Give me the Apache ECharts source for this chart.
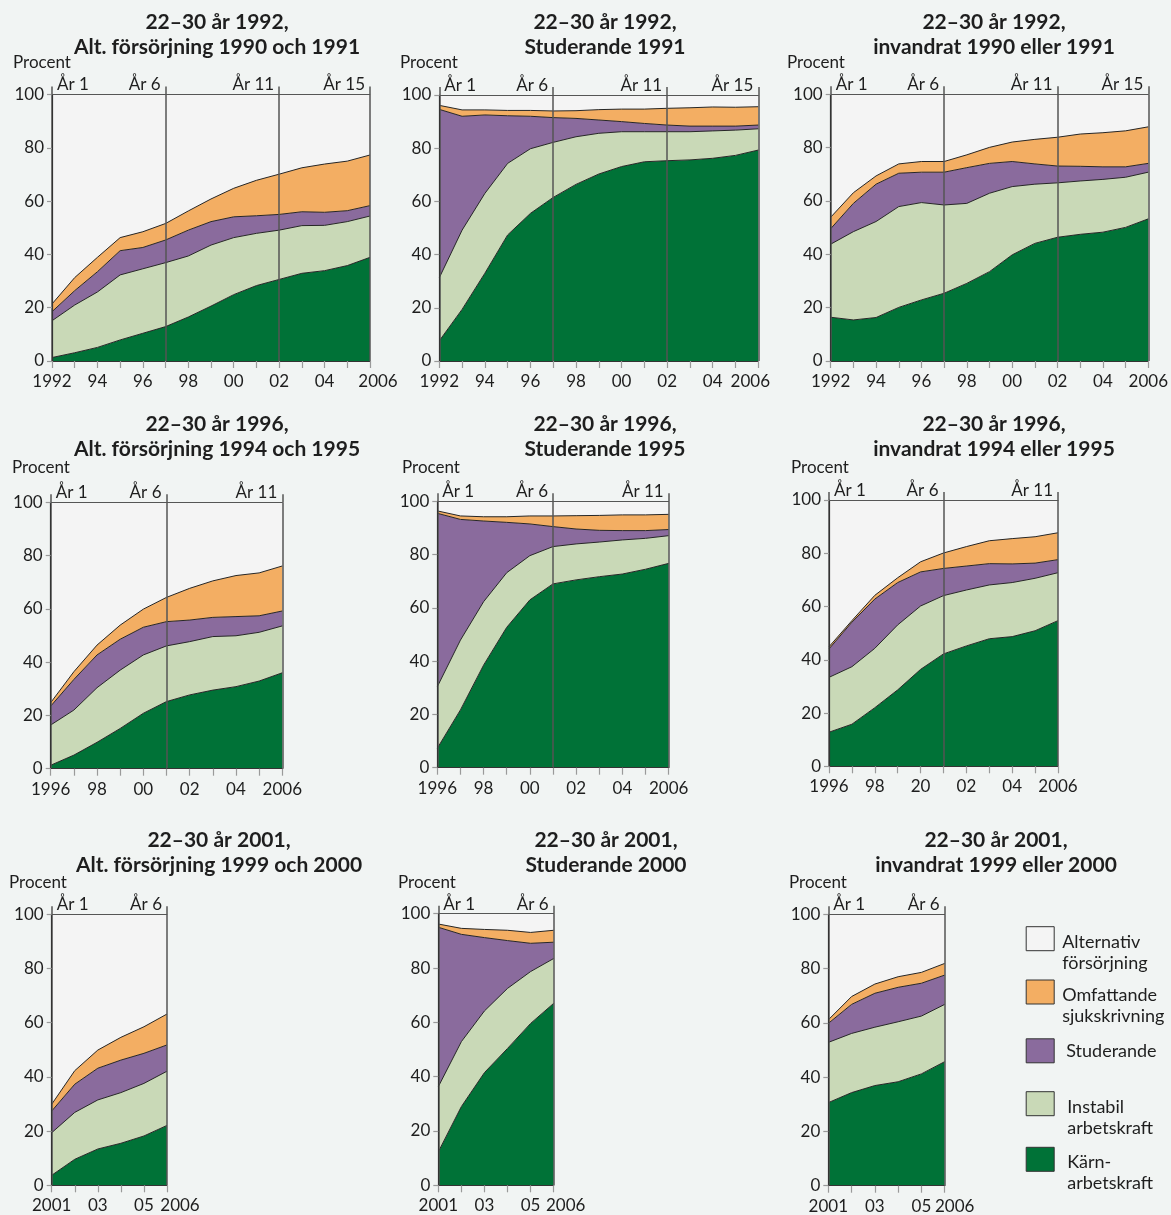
<!DOCTYPE html>
<html>
<head>
<meta charset="utf-8">
<title>Utfall 22–30 år</title>
<script src="https://cdn.jsdelivr.net/npm/echarts@6/dist/echarts.min.js"></script>
<style>
  html, body { margin: 0; padding: 0; background: #f1f4f3; }
  #chart { width: 1171px; height: 1215px; }
</style>
</head>
<body>
<div id="chart"></div>
<script>
// ---------- categories ----------
const years1992 = [1992, 1993, 1994, 1995, 1996, 1997, 1998, 1999, 2000, 2001, 2002, 2003, 2004, 2005, 2006];
const years1996 = [1996, 1997, 1998, 1999, 2000, 2001, 2002, 2003, 2004, 2005, 2006];
const years2001 = [2001, 2002, 2003, 2004, 2005, 2006];

// ---------- tick labels ----------
const tickLabels1992 = ['1992', '', '94', '', '96', '', '98', '', '00', '', '02', '', '04', '', '2006'];
const tickLabels1996 = ['1996', '', '98', '', '00', '', '02', '', '04', '', '2006'];
const tickLabels1996inv = ['1996', '', '98', '', '20', '', '02', '', '04', '', '2006'];
const tickLabels2001 = ['2001', '', '03', '', '05', '2006'];

const markerYears1992 = [1992, 1997, 2002, 2006];
const markerNames1992 = ['År 1', 'År 6', 'År 11', 'År 15'];
const markerYears1996 = [1996, 2001, 2006];
const markerNames1996 = ['År 1', 'År 6', 'År 11'];
const markerYears2001 = [2001, 2006];
const markerNames2001 = ['År 1', 'År 6'];

// ---------- series values (procent) ----------
// 22–30 år 1992, Alt. försörjning 1990 och 1991
const alt1992Karn       = [1.3, 3.1, 5.1, 7.9, 10.4, 12.9, 16.5, 20.6, 24.9, 28.3, 30.6, 32.9, 33.9, 35.8, 38.9];
const alt1992Instabil   = [13.8, 17.9, 20.8, 24.4, 24.2, 24.0, 22.9, 22.9, 21.4, 19.6, 18.5, 17.9, 17.0, 16.5, 15.5];
const alt1992Studerande = [3.4, 5.4, 7.6, 9.1, 8.0, 8.5, 9.7, 8.8, 7.8, 6.6, 5.9, 5.2, 4.9, 4.1, 3.9];
const alt1992Sjuk       = [2.9, 4.9, 5.4, 4.9, 5.9, 6.2, 7.2, 8.5, 10.7, 13.3, 15.1, 16.5, 18.1, 18.6, 19.0];

// 22–30 år 1992, Studerande 1991
const stud1992Karn       = [7.6, 19.4, 33.0, 47.4, 55.5, 61.5, 66.4, 70.3, 73.1, 74.9, 75.3, 75.6, 76.2, 77.3, 79.3];
const stud1992Instabil   = [23.7, 29.8, 30.0, 26.9, 24.3, 20.7, 17.9, 15.3, 13.1, 11.3, 10.9, 10.6, 10.3, 9.5, 8.0];
const stud1992Studerande = [63.3, 42.8, 29.5, 17.9, 12.2, 9.3, 6.9, 5.0, 3.8, 3.1, 2.5, 2.1, 1.8, 1.5, 1.4];
const stud1992Sjuk       = [1.5, 2.4, 1.9, 2.0, 2.2, 2.5, 2.9, 3.9, 4.7, 5.4, 6.3, 6.9, 7.2, 7.1, 6.9];

// 22–30 år 1992, invandrat 1990 eller 1991
const inv1992Karn       = [16.4, 15.4, 16.3, 20.1, 22.9, 25.4, 29.1, 33.5, 39.8, 44.1, 46.4, 47.5, 48.3, 50.1, 53.3];
const inv1992Instabil   = [27.4, 33.1, 36.0, 37.8, 36.5, 33.1, 30.0, 29.4, 25.6, 22.2, 20.4, 20.0, 19.8, 18.8, 17.5];
const inv1992Studerande = [5.8, 10.6, 14.0, 12.5, 11.4, 12.3, 13.4, 11.2, 9.4, 7.6, 6.3, 5.5, 4.7, 3.9, 3.3];
const inv1992Sjuk       = [4.3, 4.0, 3.1, 3.5, 4.0, 4.0, 4.8, 6.0, 7.3, 9.2, 10.8, 12.1, 12.8, 13.5, 13.7];

// 22–30 år 1996, Alt. försörjning 1994 och 1995
const alt1996Karn       = [1.3, 5.1, 9.9, 15.1, 20.8, 25.2, 27.7, 29.5, 30.8, 32.9, 36.0];
const alt1996Instabil   = [15.1, 16.9, 20.5, 21.9, 21.9, 20.9, 20.0, 20.1, 19.1, 18.3, 17.6];
const alt1996Studerande = [7.1, 11.5, 12.3, 11.6, 10.4, 9.1, 8.1, 7.2, 7.2, 6.2, 5.6];
const alt1996Sjuk       = [1.3, 2.9, 3.7, 5.3, 6.8, 9.1, 11.9, 13.7, 15.4, 16.1, 16.9];

// 22–30 år 1996, Studerande 1995
const stud1996Karn       = [7.3, 21.7, 38.5, 52.7, 63.0, 69.0, 70.5, 71.7, 72.7, 74.5, 76.7];
const stud1996Instabil   = [23.1, 26.2, 23.8, 20.5, 16.6, 14.0, 13.5, 13.0, 12.8, 11.6, 10.4];
const stud1996Studerande = [65.1, 45.3, 30.3, 18.9, 11.9, 7.5, 5.6, 4.4, 3.5, 2.9, 2.3];
const stud1996Sjuk       = [0.9, 1.3, 1.6, 2.1, 3.0, 4.0, 5.0, 5.6, 5.9, 5.9, 5.7];

// 22–30 år 1996, invandrat 1994 eller 1995
const inv1996Karn       = [12.8, 15.8, 22.0, 28.7, 36.4, 42.2, 45.2, 47.9, 48.7, 50.9, 54.7];
const inv1996Instabil   = [20.6, 21.6, 22.3, 24.4, 23.8, 21.9, 21.0, 20.2, 20.3, 19.7, 18.0];
const inv1996Studerande = [10.7, 16.7, 18.5, 15.9, 12.8, 10.2, 9.0, 8.0, 7.0, 5.7, 4.9];
const inv1996Sjuk       = [0.8, 0.6, 1.4, 1.8, 3.8, 5.8, 7.3, 8.6, 9.5, 9.9, 10.1];

// 22–30 år 2001, Alt. försörjning 1999 och 2000
const alt2001Karn       = [3.7, 9.6, 13.4, 15.5, 18.2, 22.1];
const alt2001Instabil   = [15.7, 17.3, 18.1, 18.7, 19.4, 20.0];
const alt2001Studerande = [8.0, 10.4, 11.7, 12.0, 11.1, 9.7];
const alt2001Sjuk       = [2.5, 5.0, 6.7, 8.4, 9.8, 11.4];

// 22–30 år 2001, Studerande 2000
const stud2001Karn       = [12.3, 29.0, 41.5, 50.4, 59.6, 67.0];
const stud2001Instabil   = [24.0, 23.9, 22.7, 22.1, 19.1, 16.5];
const stud2001Studerande = [58.7, 39.5, 27.0, 17.6, 10.4, 6.0];
const stud2001Sjuk       = [1.2, 2.2, 3.0, 3.8, 4.0, 4.4];

// 22–30 år 2001, invandrat 1999 eller 2000
const inv2001Karn       = [30.6, 34.3, 36.9, 38.3, 41.2, 45.7];
const inv2001Instabil   = [22.2, 21.8, 21.5, 22.1, 21.3, 21.1];
const inv2001Studerande = [7.0, 10.7, 12.5, 12.7, 12.1, 10.8];
const inv2001Sjuk       = [1.3, 2.9, 3.4, 3.9, 4.0, 4.3];

// ---------- series / legend names ----------
const seriesNames = ['Kärnarbetskraft', 'Instabil arbetskraft', 'Studerande', 'Omfattande sjukskrivning'];
const backgroundName = 'Alternativ försörjning';
const legendNames = ['Alternativ försörjning', 'Omfattande sjukskrivning', 'Studerande', 'Instabil arbetskraft', 'Kärnarbetskraft'];
const legendLabels = [['Alternativ', 'försörjning'], ['Omfattande', 'sjukskrivning'], ['Studerande'], ['Instabil', 'arbetskraft'], ['Kärn-', 'arbetskraft']];

const panels = [
  { title: '22–30 år 1992,\nAlt. försörjning 1990 och 1991', years: years1992, ticks: tickLabels1992,
    markers: markerYears1992, markerNames: markerNames1992,
    values: [alt1992Karn, alt1992Instabil, alt1992Studerande, alt1992Sjuk] },
  { title: '22–30 år 1992,\nStuderande 1991', years: years1992, ticks: tickLabels1992,
    markers: markerYears1992, markerNames: markerNames1992,
    values: [stud1992Karn, stud1992Instabil, stud1992Studerande, stud1992Sjuk] },
  { title: '22–30 år 1992,\ninvandrat 1990 eller 1991', years: years1992, ticks: tickLabels1992,
    markers: markerYears1992, markerNames: markerNames1992,
    values: [inv1992Karn, inv1992Instabil, inv1992Studerande, inv1992Sjuk] },
  { title: '22–30 år 1996,\nAlt. försörjning 1994 och 1995', years: years1996, ticks: tickLabels1996,
    markers: markerYears1996, markerNames: markerNames1996,
    values: [alt1996Karn, alt1996Instabil, alt1996Studerande, alt1996Sjuk] },
  { title: '22–30 år 1996,\nStuderande 1995', years: years1996, ticks: tickLabels1996,
    markers: markerYears1996, markerNames: markerNames1996,
    values: [stud1996Karn, stud1996Instabil, stud1996Studerande, stud1996Sjuk] },
  { title: '22–30 år 1996,\ninvandrat 1994 eller 1995', years: years1996, ticks: tickLabels1996inv,
    markers: markerYears1996, markerNames: markerNames1996,
    values: [inv1996Karn, inv1996Instabil, inv1996Studerande, inv1996Sjuk] },
  { title: '22–30 år 2001,\nAlt. försörjning 1999 och 2000', years: years2001, ticks: tickLabels2001,
    markers: markerYears2001, markerNames: markerNames2001,
    values: [alt2001Karn, alt2001Instabil, alt2001Studerande, alt2001Sjuk] },
  { title: '22–30 år 2001,\nStuderande 2000', years: years2001, ticks: tickLabels2001,
    markers: markerYears2001, markerNames: markerNames2001,
    values: [stud2001Karn, stud2001Instabil, stud2001Studerande, stud2001Sjuk] },
  { title: '22–30 år 2001,\ninvandrat 1999 eller 2000', years: years2001, ticks: tickLabels2001,
    markers: markerYears2001, markerNames: markerNames2001,
    values: [inv2001Karn, inv2001Instabil, inv2001Studerande, inv2001Sjuk] }
];

// ---------- layout & style ----------
const FONT = 'Lato, "Open Sans", "DejaVu Sans", sans-serif';
const TEXT = '#1e1e1e';
const fills = ['#007237', '#c9d9b7', '#8a6b9d', '#f3ae63'];
const plotBg = '#f4f4f4';
const LABEL_SIZE = 17;

// [left, top, width, height] of each plot area
const gridBoxes = [
  [52, 94.5, 318, 266.5], [439.3, 95, 319, 266], [830.7, 94.3, 318, 266.7],
  [50.7, 502.3, 231.6, 266.4], [437.3, 501.3, 231.4, 266.4], [829, 500, 229, 266.3],
  [51.7, 914.3, 115.3, 271], [438.3, 913.7, 115.4, 271.6], [828.3, 914.3, 116.4, 271.4]
];
const titleCenters = [[217, 10], [605, 10], [994, 10], [217, 412], [605, 412], [994, 412], [219, 828], [606, 828], [996, 828]];
const procentPos = [[13, 63], [400, 63], [787, 63], [12, 468], [402, 468], [791, 468], [9, 883], [398, 883], [789, 883]];
const endLabelShift = [8, -8, 0, 0, 0, 0, 13, 12, 10];

// legend: box tops and text indents
const legendLeft = 1025.7;
const legendBoxTops = [926.7, 980, 1038.3, 1091.7, 1147.3];
const legendIndent = [3, 3, 7, 8, 8];
const LEGEND_LINE = 21;
const LEGEND_GAP = 27;      // height of the spacer line above two-line labels
const LEGEND_BOX_H = 24;

const option = {
  animation: false,
  backgroundColor: '#f1f4f3',
  textStyle: { fontFamily: FONT },
  grid: [], xAxis: [], yAxis: [], series: [], legend: [], graphic: []
};

panels.forEach((p, i) => {
  const [l, t, w, h] = gridBoxes[i];
  const cats = p.years.map(String);
  const markerCats = p.markers.map(String);
  const shift = endLabelShift[i];

  option.grid.push({ left: l, top: t, width: w, height: h, show: true, backgroundColor: plotBg, borderWidth: 0 });

  // bottom year axis
  option.xAxis.push({
    gridIndex: i, type: 'category', data: cats, boundaryGap: false, position: 'bottom', z: 10,
    axisLine: { show: true, onZero: false, lineStyle: { color: '#333', width: 1.2 } },
    axisTick: { show: true, interval: 0, length: 7, lineStyle: { color: '#9a9a9a', width: 1.2 } },
    splitLine: { show: false },
    axisLabel: {
      interval: 0, margin: 12, color: TEXT, fontSize: LABEL_SIZE, fontFamily: FONT,
      formatter: (v, idx) => {
        const txt = p.ticks[idx] || '';
        if (idx === p.years.length - 1 && shift !== 0) return '{e|' + txt + '}';
        return txt;
      },
      rich: {
        e: {
          fontSize: LABEL_SIZE, fontFamily: FONT, color: TEXT,
          padding: shift > 0 ? [0, 0, 0, 2 * shift] : [0, -2 * shift, 0, 0]
        }
      }
    }
  });
  // top frame line with short marks above the year markers
  option.xAxis.push({
    gridIndex: i, type: 'category', data: cats, boundaryGap: false, position: 'top', z: 10,
    axisLine: { show: true, onZero: false, lineStyle: { color: '#555', width: 1.2 } },
    axisTick: {
      show: true, inside: false, length: 8,
      interval: (idx, val) => markerCats.indexOf(String(val)) >= 0,
      lineStyle: { color: '#555', width: 1.5 }
    },
    axisLabel: { show: false },
    splitLine: { show: false }
  });
  option.yAxis.push({
    gridIndex: i, type: 'value', min: 0, max: 100, interval: 20, z: 10,
    axisLine: { show: true, onZero: false, lineStyle: { color: '#333', width: 1.2 } },
    axisTick: { show: true, length: 5, lineStyle: { color: '#9a9a9a', width: 1.2 } },
    splitLine: { show: false },
    axisLabel: { margin: 8, color: TEXT, fontSize: LABEL_SIZE, fontFamily: FONT }
  });

  p.values.forEach((vals, s) => {
    const ser = {
      type: 'line', name: seriesNames[s], xAxisIndex: 2 * i, yAxisIndex: i,
      stack: 'panel' + i, symbol: 'none', smooth: false, silent: true, z: 2,
      color: fills[s],
      lineStyle: { color: '#262626', width: 1 },
      areaStyle: { color: fills[s], opacity: 1 },
      data: vals.slice()
    };
    if (s === 0) {
      ser.markLine = {
        silent: true, symbol: ['none', 'none'], z: 5,
        lineStyle: { color: '#555', width: 1.5, type: 'solid' },
        label: { show: true, position: 'end', distance: 1, color: TEXT, fontSize: LABEL_SIZE, fontFamily: FONT },
        data: markerCats.map((yr, m) => ({
          xAxis: yr,
          label: {
            formatter: p.markerNames[m],
            align: m === 0 ? 'left' : 'right',
            padding: m === 0 ? [0, 0, 0, 5] : [0, 5, 0, 0]
          }
        }))
      };
    }
    option.series.push(ser);
  });

  // panel heading and unit label
  option.graphic.push({
    type: 'text', x: titleCenters[i][0], y: titleCenters[i][1], silent: true,
    style: { text: p.title, fill: TEXT, fontSize: 21, fontWeight: 'bold', fontFamily: FONT,
             align: 'center', verticalAlign: 'top', lineHeight: 24.5 }
  });
  option.graphic.push({
    type: 'text', x: procentPos[i][0], y: procentPos[i][1], silent: true,
    style: { text: 'Procent', fill: TEXT, fontSize: LABEL_SIZE, fontFamily: FONT, align: 'left', verticalAlign: 'middle' }
  });
});

// share above all other groups; only used for its legend entry
option.series.push({
  type: 'line', name: backgroundName, xAxisIndex: 0, yAxisIndex: 0, data: [],
  color: plotBg, symbol: 'none', silent: true
});

legendNames.forEach((name, k) => {
  const lines = legendLabels[k];
  let text, blockH;
  if (lines.length > 1) {
    // a spacer line above keeps the first text line level with the box
    text = '{gap| }\n' + lines.map(s => '{t|' + s + '}').join('\n');
    blockH = LEGEND_GAP + lines.length * LEGEND_LINE;
  } else {
    text = '{t|' + lines[0] + '}';
    blockH = LEGEND_LINE;
  }
  const textTop = LEGEND_BOX_H / 2 - blockH / 2;
  option.legend.push({
    left: legendLeft, top: legendBoxTops[k] + Math.min(0, textTop), padding: 0, selectedMode: false,
    icon: 'rect', itemWidth: 28, itemHeight: LEGEND_BOX_H,
    itemStyle: { borderColor: '#333', borderWidth: 1 },
    data: [name],
    formatter: () => text,
    textStyle: {
      color: TEXT, fontSize: 18, fontFamily: FONT, padding: [0, 0, 0, legendIndent[k]],
      rich: {
        gap: { fontSize: 18, height: LEGEND_GAP, lineHeight: LEGEND_GAP },
        t: { fontSize: 18, lineHeight: LEGEND_LINE, fontFamily: FONT, color: TEXT }
      }
    }
  });
});

const chart = echarts.init(document.getElementById('chart'), null, { renderer: 'canvas' });
chart.setOption(option);
</script>
</body>
</html>
